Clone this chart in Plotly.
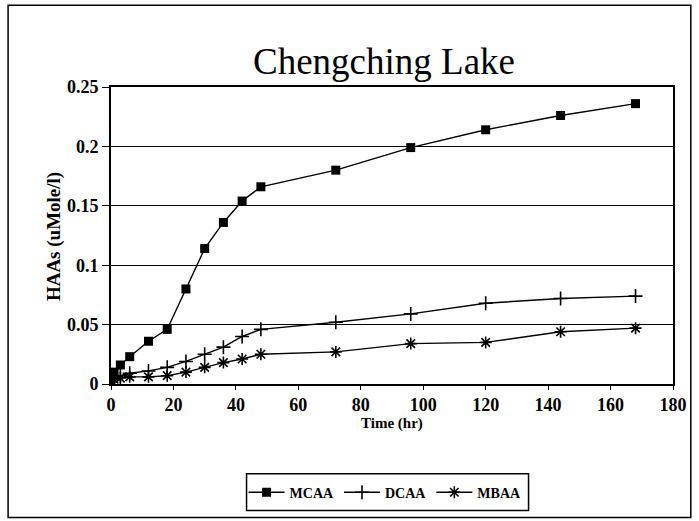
import plotly.graph_objects as go

# Sampling times (hr)
time_hr = [0, 1, 3, 6, 12, 18, 24, 30, 36, 42, 48, 72, 96, 120, 144, 168]

# Haloacetic acid concentrations (uMole/l)
mcaa = [0.000, 0.010, 0.016, 0.023, 0.036, 0.046, 0.080, 0.114, 0.136, 0.154,
        0.166, 0.180, 0.199, 0.214, 0.226, 0.236]
dcaa = [0.002, 0.005, 0.007, 0.009, 0.011, 0.014, 0.019, 0.025, 0.031, 0.040,
        0.046, 0.052, 0.059, 0.068, 0.072, 0.074]
mbaa = [0.002, 0.004, 0.005, 0.006, 0.006, 0.007, 0.010, 0.014, 0.018, 0.021,
        0.025, 0.027, 0.034, 0.035, 0.044, 0.047]

x_ticks = [0, 20, 40, 60, 80, 100, 120, 140, 160, 180]
y_ticks = [0, 0.05, 0.1, 0.15, 0.2, 0.25]
y_tick_text = ["0", "0.05", "0.1", "0.15", "0.2", "0.25"]

SERIF = "Liberation Serif"
W, H = 699, 521
L, R, T, B = 111, 20, 87, 136
PW, PH = W - L - R, H - T - B


def px(x):
    """Horizontal pixel -> paper coordinate."""
    return (x - L) / PW


def py(y):
    """Vertical pixel (from top) -> paper coordinate."""
    return (H - B - y) / PH


fig = go.Figure()
series = [
    ("MCAA", mcaa, dict(symbol="square", size=9, color="black")),
    ("DCAA", dcaa, dict(symbol="cross-thin", size=10, color="black",
                        line=dict(color="black", width=1.6))),
    ("MBAA", mbaa, dict(symbol="asterisk", size=10, color="black",
                        line=dict(color="black", width=1.6))),
]
for name, vals, marker in series:
    fig.add_trace(go.Scatter(
        x=time_hr, y=vals, name=name, mode="lines+markers",
        line=dict(color="black", width=1.4), marker=marker,
    ))

fig.update_layout(
    width=W, height=H,
    margin=dict(l=L, r=R, t=T, b=B),
    paper_bgcolor="white", plot_bgcolor="white",
    showlegend=True,
    legend=dict(
        orientation="h", x=px(388), xanchor="center",
        y=py(494), yanchor="middle",
        bgcolor="rgba(0,0,0,0)", borderwidth=0,
        font=dict(family=SERIF, size=14, color="black", weight="bold"),
        itemwidth=36,
    ),
    title=dict(
        text="Chengching Lake", xref="container", yref="container",
        x=384 / W, xanchor="center", y=1 - 61 / H, yanchor="middle",
        font=dict(family=SERIF, size=37, color="black"),
    ),
    font=dict(family=SERIF, color="black"),
)

fig.update_xaxes(
    range=[0, 180], tickvals=x_ticks, ticks="outside", ticklen=4,
    tickwidth=1.2, tickcolor="black", showgrid=False, zeroline=False,
    showline=True, linecolor="black", linewidth=1.6, mirror=True,
    tickfont=dict(family=SERIF, size=18, color="black", weight="bold"),
)
fig.update_yaxes(
    range=[0, 0.25], tickvals=y_ticks, ticktext=y_tick_text,
    ticks="outside", ticklen=7, tickwidth=1.3, tickcolor="black",
    showgrid=True, gridcolor="black", gridwidth=1.3, zeroline=False,
    showline=True, linecolor="black", linewidth=1.6, mirror=True,
    tickfont=dict(family=SERIF, size=18, color="black", weight="bold"),
)

# Axis titles
fig.add_annotation(
    text="Time (hr)", xref="paper", yref="paper",
    x=px(395), y=py(425), xanchor="center", yanchor="middle",
    showarrow=False, font=dict(family=SERIF, size=15, color="black", weight="bold"),
)
fig.add_annotation(
    text="HAAs (uMole/l)", xref="paper", yref="paper", textangle=-90,
    x=px(54), y=py(237), xanchor="center", yanchor="middle",
    showarrow=False, font=dict(family=SERIF, size=19, color="black", weight="bold"),
)

# Legend box
fig.add_shape(
    type="rect", xref="paper", yref="paper",
    x0=px(248), x1=px(533), y0=py(512), y1=py(475),
    line=dict(color="black", width=1.5), fillcolor="rgba(0,0,0,0)",
)

# Outer frame around the whole chart
fig.add_shape(
    type="rect", xref="paper", yref="paper",
    x0=px(7), x1=px(697), y0=py(519), y1=py(5),
    line=dict(color="black", width=1.5), fillcolor="rgba(0,0,0,0)",
)

fig.write_html("out.html")
